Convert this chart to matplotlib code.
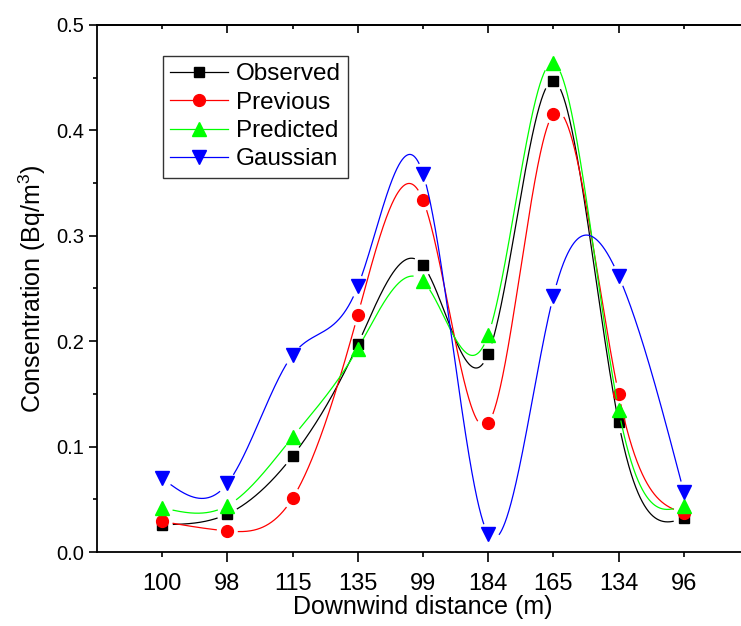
import matplotlib

matplotlib.use('Agg')
import matplotlib.pyplot as plt
import numpy as np
from matplotlib.ticker import FixedLocator, FixedFormatter, MultipleLocator

plt.rcParams['font.family'] = ['Liberation Sans', 'DejaVu Sans']
plt.rcParams['mathtext.fontset'] = 'custom'
plt.rcParams['mathtext.rm'] = 'Liberation Sans'
plt.rcParams['mathtext.it'] = 'Liberation Sans:italic'

# data
distances = ['100', '98', '115', '135', '99', '184', '165', '134', '96']
observed = [0.026, 0.036, 0.091, 0.197, 0.272, 0.188, 0.447, 0.123, 0.032]
previous = [0.029, 0.020, 0.051, 0.225, 0.334, 0.122, 0.416, 0.150, 0.037]
predicted = [0.042, 0.044, 0.109, 0.193, 0.257, 0.206, 0.464, 0.135, 0.044]
gaussian = [0.070, 0.065, 0.187, 0.252, 0.359, 0.017, 0.243, 0.262, 0.057]


def natural_spline(x, y, xs):
    x = np.asarray(x, float)
    y = np.asarray(y, float)
    n = len(x)
    h = np.diff(x)
    A = np.zeros((n, n))
    b = np.zeros(n)
    A[0, 0] = A[-1, -1] = 1
    for i in range(1, n - 1):
        A[i, i - 1] = h[i - 1]
        A[i, i] = 2 * (h[i - 1] + h[i])
        A[i, i + 1] = h[i]
        b[i] = 3 * ((y[i + 1] - y[i]) / h[i] - (y[i] - y[i - 1]) / h[i - 1])
    c = np.linalg.solve(A, b)
    bb = (y[1:] - y[:-1]) / h - h * (2 * c[:-1] + c[1:]) / 3
    d = (c[1:] - c[:-1]) / (3 * h)
    idx = np.clip(np.searchsorted(x, xs) - 1, 0, n - 2)
    t = xs - x[idx]
    return y[idx] + bb[idx] * t + c[idx] * t ** 2 + d[idx] * t ** 3


fig = plt.figure(figsize=(7.41, 6.26), dpi=100)
ax = fig.add_axes([97 / 741, 74 / 626, 652 / 741, 527 / 626])
ax.set_xlim(0, 10)
ax.set_ylim(0, 0.5)

pos = np.arange(1, len(distances) + 1)
xs = np.linspace(pos[0], pos[-1], 2000)

series = [
    ('Observed', observed, 'black', 's', 7.5),
    ('Previous', previous, 'red', 'o', 8.5),
    ('Predicted', predicted, '#00ff00', '^', 9.5),
    ('Gaussian', gaussian, 'blue', 'v', 9.5),
]

handles = []
for name, vals, col, mk, ms in series:
    ys = natural_spline(pos, vals, xs)
    # gap in the line around each marker, like Origin
    pts = ax.transData.transform(np.column_stack([xs, ys]))
    mpts = ax.transData.transform(np.column_stack([pos, vals]))
    dist = np.min(np.hypot(pts[:, None, 0] - mpts[None, :, 0],
                           pts[:, None, 1] - mpts[None, :, 1]), axis=1)
    ys = np.where(dist < 11, np.nan, ys)
    ax.plot(xs, ys, color=col, lw=0.9, clip_on=True)
    ax.plot(pos, vals, ls='none', marker=mk, ms=ms, color=col, mec=col)
    h, = ax.plot([], [], color=col, lw=0.9, marker=mk, ms=ms, mec=col)
    handles.append(h)

# ticks
ax.xaxis.set_major_locator(FixedLocator([2, 4, 6, 8]))
ax.xaxis.set_major_formatter(FixedFormatter([distances[i - 1] for i in [2, 4, 6, 8]]))
ax.xaxis.set_minor_locator(FixedLocator([1, 3, 5, 7, 9]))
ax.xaxis.set_minor_formatter(FixedFormatter([distances[i - 1] for i in [1, 3, 5, 7, 9]]))
ax.yaxis.set_major_locator(MultipleLocator(0.1))
ax.yaxis.set_minor_locator(MultipleLocator(0.05))
ax.yaxis.set_major_formatter(plt.FuncFormatter(lambda v, p: '%.1f' % v))

ax.tick_params(axis='x', which='major', direction='out', length=7, width=1.2, pad=8, labelsize=17)
ax.tick_params(axis='x', which='minor', direction='out', length=3.5, width=1.2, pad=11.5, labelsize=17)
ax.tick_params(axis='y', which='major', direction='out', length=6, width=1.2, pad=3, labelsize=14.5)
ax.tick_params(axis='y', which='minor', direction='out', length=3, width=1.2)

for s in ax.spines.values():
    s.set_linewidth(1.3)

# mirror axes with inward ticks
top = ax.secondary_xaxis('top')
top.xaxis.set_major_locator(FixedLocator([2, 4, 6, 8]))
top.xaxis.set_minor_locator(FixedLocator([1, 3, 5, 7, 9]))
top.tick_params(which='major', direction='in', length=6, width=1.2, labeltop=False)
top.tick_params(which='minor', direction='in', length=3, width=1.2, labeltop=False)
top.spines['top'].set_linewidth(1.3)
right = ax.secondary_yaxis('right')
right.yaxis.set_major_locator(MultipleLocator(0.1))
right.yaxis.set_minor_locator(MultipleLocator(0.05))
right.tick_params(which='major', direction='in', length=6, width=1.2, labelright=False)
right.tick_params(which='minor', direction='in', length=3, width=1.2, labelright=False)

ax.set_xlabel('Downwind distance (m)', fontsize=18, labelpad=0)
ax.set_ylabel('Consentration (Bq/m$^3$)', fontsize=18, labelpad=6)

leg = ax.legend(handles, [s[0] for s in series], loc='upper left',
                bbox_to_anchor=(0.101, 0.941), borderaxespad=0, fontsize=17.5,
                fancybox=False, framealpha=1, edgecolor='#333333',
                handlelength=2.4, handletextpad=0.3, labelspacing=0.26,
                borderpad=0.3)
leg.get_frame().set_linewidth(1.0)

fig.savefig('out.png', dpi=100)
